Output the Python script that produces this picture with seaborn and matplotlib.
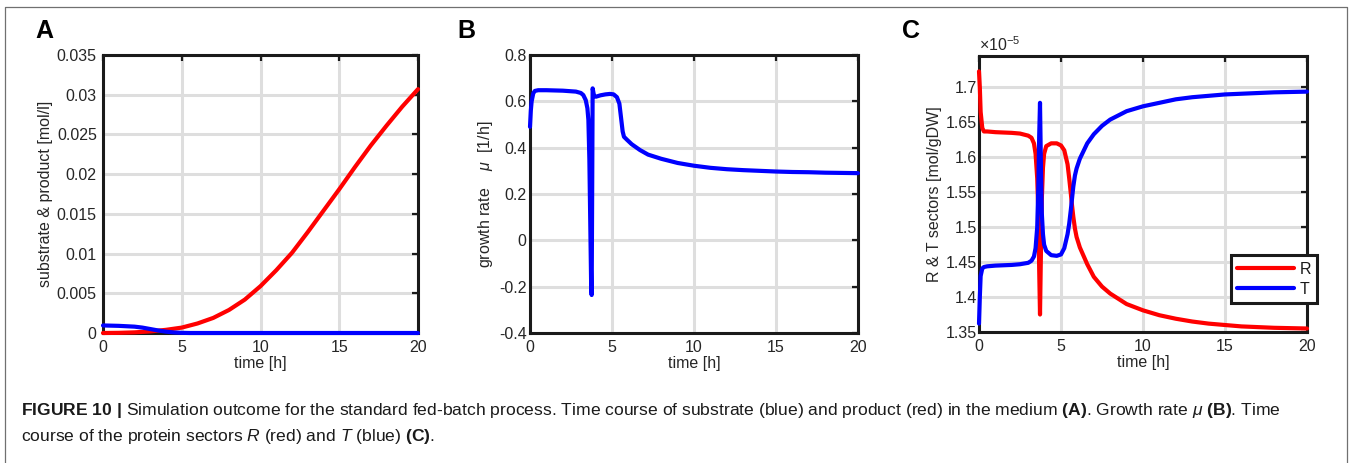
import numpy as np
import pandas as pd
import matplotlib
matplotlib.use("Agg")
import matplotlib.pyplot as plt
from matplotlib.lines import Line2D
from matplotlib.ticker import FixedLocator, FuncFormatter
import seaborn as sns

# ---------------- data ----------------
# Panel A: substrate (blue) and product (red) [mol/l]
t_prod = [0, 1, 2, 3, 4, 5, 6, 7, 8, 9, 10, 11, 12, 13, 14, 15, 16, 17, 18, 19, 20]
product = [0.0, 0.00002, 0.00008, 0.0002, 0.0004, 0.00068, 0.0012, 0.0019, 0.0029,
           0.0042, 0.0059, 0.0079, 0.0101, 0.0127, 0.0154, 0.0181, 0.0209, 0.0236,
           0.0261, 0.0285, 0.0307]
t_subs = [0, 1, 2, 2.5, 3, 3.5, 4, 4.5, 5, 5.5, 6, 10, 15, 20]
substrate = [0.00095, 0.0009, 0.0008, 0.00068, 0.0005, 0.00032, 0.00017, 0.00007,
             0.00002, 0.0, 0.0, 0.0, 0.0, 0.0]

# Panel B: growth rate mu [1/h]
t_mu = [0, 0.05, 0.1, 0.2, 0.3, 0.5, 1, 2, 2.8, 3.1, 3.25, 3.4, 3.5, 3.56, 3.62,
        3.68, 3.73, 3.76, 3.79, 3.82, 3.9, 4.02, 4.3, 4.6, 4.88, 5.1, 5.3, 5.45,
        5.55, 5.65, 5.73, 5.9, 6.2, 6.7, 7.2, 8, 9, 10, 11, 12, 13, 14, 15, 16,
        17, 18, 19, 20]
mu = [0.49, 0.56, 0.60, 0.635, 0.645, 0.648, 0.648, 0.646, 0.642, 0.636, 0.627,
      0.605, 0.57, 0.52, 0.35, 0.05, -0.2, -0.236, 0.2, 0.656, 0.625, 0.62, 0.626,
      0.63, 0.632, 0.63, 0.618, 0.59, 0.53, 0.47, 0.447, 0.435, 0.415, 0.39, 0.37,
      0.352, 0.334, 0.322, 0.313, 0.307, 0.303, 0.300, 0.297, 0.295, 0.294, 0.292,
      0.291, 0.290]

# Panel C: protein sectors R (red) and T (blue) [x1e-5 mol/gDW]
t_sec = [0, 0.05, 0.1, 0.2, 0.3, 0.5, 1, 2, 2.5, 3, 3.2, 3.35, 3.45, 3.55, 3.62,
         3.67, 3.72, 3.78, 3.83, 3.9, 3.97, 4.1, 4.4, 4.74, 5.0, 5.2, 5.4, 5.5,
         5.6, 5.65, 5.75, 5.85, 5.95, 6.15, 6.6, 7, 7.5, 8, 9, 10, 11, 12, 13, 14,
         15, 16, 17, 18, 19, 20]
R_sec = [1.723, 1.70, 1.665, 1.642, 1.637, 1.637, 1.636, 1.635, 1.634, 1.631,
         1.628, 1.62, 1.605, 1.57, 1.52, 1.44, 1.375, 1.47, 1.54, 1.585, 1.605,
         1.616, 1.620, 1.620, 1.617, 1.61, 1.59, 1.57, 1.548, 1.536, 1.515, 1.498,
         1.486, 1.471, 1.447, 1.429, 1.415, 1.405, 1.390, 1.381, 1.374, 1.369,
         1.365, 1.362, 1.360, 1.358, 1.357, 1.356, 1.3555, 1.355]
T_sec = [1.362, 1.40, 1.43, 1.441, 1.443, 1.444, 1.445, 1.446, 1.447, 1.449,
         1.452, 1.458, 1.47, 1.50, 1.56, 1.63, 1.678, 1.58, 1.52, 1.49, 1.475,
         1.466, 1.460, 1.459, 1.461, 1.47, 1.49, 1.505, 1.525, 1.536, 1.558, 1.574,
         1.584, 1.598, 1.62, 1.633, 1.645, 1.654, 1.666, 1.673, 1.678, 1.683,
         1.686, 1.688, 1.690, 1.691, 1.692, 1.693, 1.6935, 1.694]
sector_scale = 1e-5

x_ticks = [0, 5, 10, 15, 20]
yticks_A = [0, 0.005, 0.01, 0.015, 0.02, 0.025, 0.03, 0.035]
yticks_B = [-0.4, -0.2, 0, 0.2, 0.4, 0.6, 0.8]
yticks_C = [1.35, 1.4, 1.45, 1.5, 1.55, 1.6, 1.65, 1.7]

# ---------------- style ----------------
sns.set_style("white")
plt.rcParams["font.family"] = ["Liberation Sans", "DejaVu Sans"]
plt.rcParams["axes.unicode_minus"] = False
plt.rcParams["mathtext.fontset"] = "custom"
plt.rcParams["mathtext.rm"] = "Liberation Sans"
plt.rcParams["mathtext.it"] = "Liberation Sans:italic"
plt.rcParams["mathtext.bf"] = "Liberation Sans:bold"

W, H = 1352, 463
fig = plt.figure(figsize=(W / 100, H / 100), dpi=100)
fig.patch.set_facecolor("white")


def px_axes(l, t, r, b):
    return fig.add_axes([l / W, 1 - b / H, (r - l) / W, (b - t) / H])


axA = px_axes(103, 55, 418, 333)
axB = px_axes(530, 55, 858, 333)
axC = px_axes(979, 56, 1307, 332)

RED = "#ff0000"
BLUE = "#0000ff"
LW = 3.0
FS = 11.5
TXT = "#262626"


def style(ax, ypad):
    ax.set_facecolor("white")
    ax.set_axisbelow(True)
    ax.grid(True, color="#dedede", lw=2.2)
    for s in ax.spines.values():
        s.set_visible(True)
        s.set_color("#1a1a1a")
        s.set_linewidth(2.2)
    ax.tick_params(direction="in", length=4, width=1.6, top=True, right=True,
                   labelsize=FS, colors="#1a1a1a", labelcolor=TXT)
    ax.tick_params(axis="x", pad=5)
    ax.tick_params(axis="y", pad=ypad)
    ax.set_xlim(0, 20)
    ax.xaxis.set_major_locator(FixedLocator(x_ticks))
    ax.xaxis.set_major_formatter(FuncFormatter(lambda v, p: f"{v:g}"))
    ax.set_xlabel("time [h]", fontsize=FS, color=TXT, labelpad=1)


# Panel A
sns.lineplot(x=t_prod, y=product, ax=axA, color=RED, lw=LW, sort=False,
             estimator=None, clip_on=False, zorder=3)
sns.lineplot(x=t_subs, y=substrate, ax=axA, color=BLUE, lw=LW, sort=False,
             estimator=None, clip_on=False, zorder=4)
style(axA, 4.5)
axA.set_ylim(0, 0.035)
axA.yaxis.set_major_locator(FixedLocator(yticks_A))
axA.yaxis.set_major_formatter(FuncFormatter(lambda v, p: f"{v:g}"))
axA.set_ylabel("substrate & product [mol/l]", fontsize=FS, color=TXT, labelpad=3)

# Panel B
sns.lineplot(x=t_mu, y=mu, ax=axB, color=BLUE, lw=LW, sort=False,
             estimator=None, clip_on=False, zorder=3)
style(axB, 2.5)
axB.set_ylim(-0.4, 0.8)
axB.yaxis.set_major_locator(FixedLocator(yticks_B))
axB.yaxis.set_major_formatter(FuncFormatter(lambda v, p: f"{v:g}"))
axB.set_ylabel(r"growth rate    $\mu$  [1/h]", fontsize=FS, color=TXT, labelpad=3)

# Panel C
R_vals = [v * sector_scale for v in R_sec]
T_vals = [v * sector_scale for v in T_sec]
sns.lineplot(x=t_sec, y=R_vals, ax=axC, color=RED, lw=LW, sort=False,
             estimator=None, clip_on=False, zorder=3, label="R")
sns.lineplot(x=t_sec, y=T_vals, ax=axC, color=BLUE, lw=LW, sort=False,
             estimator=None, clip_on=False, zorder=4, label="T")
style(axC, 1.2)
axC.set_ylim(1.35 * sector_scale, 1.745 * sector_scale)
axC.yaxis.set_major_locator(FixedLocator([v * sector_scale for v in yticks_C]))
axC.yaxis.set_major_formatter(FuncFormatter(lambda v, p: f"{v / sector_scale:g}"))
axC.set_ylabel("R & T sectors [mol/gDW]", fontsize=FS, color=TXT, labelpad=3)
leg = axC.legend(loc="lower right", bbox_to_anchor=(1.031, 0.105), frameon=True,
                 fancybox=False, framealpha=1, fontsize=FS, handlelength=3.6,
                 handletextpad=0.3, borderpad=0.4, labelspacing=0.3,
                 borderaxespad=0)
leg.get_frame().set_edgecolor("#1a1a1a")
leg.get_frame().set_linewidth(2.2)
leg.set_zorder(10)
for txt in leg.get_texts():
    txt.set_color("#1a1a1a")
fig.text(979 / W, 1 - 45 / H, r"$\times10^{-5}$", fontsize=11.5, color=TXT,
         ha="left", va="center")

# panel letters
for xp, letter in [(35, "A"), (457, "B"), (902, "C")]:
    fig.text(xp / W, 1 - 31 / H, letter, fontsize=18, fontweight="bold",
             ha="left", va="center", color="black")

# caption
cap1 = (r"$\mathbf{FIGURE\ 10\ |}$ Simulation outcome for the standard fed-batch process. "
        r"Time course of substrate (blue) and product (red) in the medium $\mathbf{(A)}$. "
        r"Growth rate $\mu$ $\mathbf{(B)}$. Time")
cap2 = (r"course of the protein sectors $\mathit{R}$ (red) and $\mathit{T}$ (blue) "
        r"$\mathbf{(C)}$.")
fig.text(21 / W, 1 - 411 / H, cap1, fontsize=12.6, ha="left", va="center", color="#1a1a1a")
fig.text(21 / W, 1 - 437 / H, cap2, fontsize=12.6, ha="left", va="center", color="#1a1a1a")

# outer frame
fig.add_artist(Line2D([4.5 / W, 4.5 / W, 1346.5 / W, 1346.5 / W],
                      [0, 1 - 6.5 / H, 1 - 6.5 / H, 0],
                      color="#707070", lw=0.9, transform=fig.transFigure))

fig.savefig("out.png", dpi=100, facecolor="white")
